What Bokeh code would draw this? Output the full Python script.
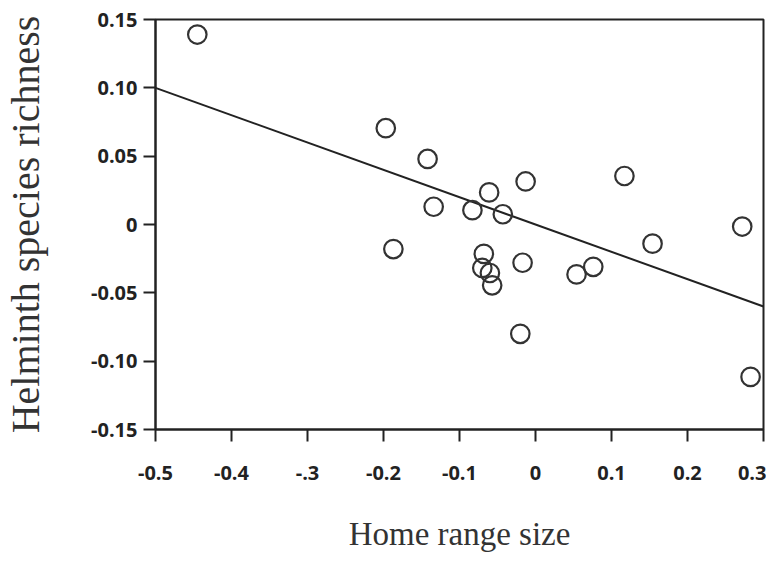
from bokeh.plotting import figure
from bokeh.models import Range1d, FixedTicker
from bokeh.embed import file_html
from bokeh.resources import INLINE

# data
home_range = [-0.445, -0.197, -0.142, -0.134, -0.187, -0.083, -0.061, -0.013, -0.043,
              -0.068, -0.070, -0.060, -0.057, -0.017, -0.020, 0.054, 0.076, 0.117,
              0.154, 0.272, 0.283]
richness = [0.139, 0.0705, 0.048, 0.013, -0.018, 0.0105, 0.0235, 0.0315, 0.0075,
            -0.0215, -0.0318, -0.0355, -0.0445, -0.0280, -0.0800, -0.0365, -0.0310, 0.0355,
            -0.0140, -0.0015, -0.1115]
fit_intercept = 0.0
fit_slope = -0.2

x_ticks = [-0.5, -0.4, -0.3, -0.2, -0.1, 0.0, 0.1, 0.2, 0.3]
x_tick_labels = ["-0.5", "-0.4", "-.3", "-0.2", "-0.1", "0", "0.1", "0.2", "0.3"]
y_ticks = [-0.15, -0.10, -0.05, 0.0, 0.05, 0.10, 0.15]
y_tick_labels = ["-0.15", "-0.10", "-0.05", "0", "0.05", "0.10", "0.15"]

W, H = 766, 556
p = figure(width=W, height=H, output_backend="svg", toolbar_location=None,
           x_range=Range1d(x_ticks[0], x_ticks[-1]),
           y_range=Range1d(y_ticks[0], y_ticks[-1]),
           min_border_left=154, min_border_right=3, min_border_top=19, min_border_bottom=127)
p.background_fill_color = "white"
p.border_fill_color = "white"
p.outline_line_color = "#222222"
p.outline_line_width = 2
p.xgrid.visible = False
p.ygrid.visible = False

for ax in (p.xaxis[0], p.yaxis[0]):
    ax.axis_line_color = "#222222"
    ax.axis_line_width = 2
    ax.major_tick_line_color = "#222222"
    ax.major_tick_line_width = 2
    ax.major_tick_out = 12
    ax.major_tick_in = 0
    ax.minor_tick_line_color = None
    ax.major_label_text_font = "Open Sans"
    ax.major_label_text_font_size = "20px"
    ax.major_label_text_font_style = "bold"
    ax.major_label_text_color = "#222222"
    ax.axis_label_text_font = "Liberation Serif"
    ax.axis_label_text_font_style = "normal"
    ax.axis_label_text_color = "#333333"

p.xaxis.axis_label_text_font_size = "33px"
p.yaxis.axis_label_text_font_size = "40px"
p.xaxis.ticker = FixedTicker(ticks=x_ticks)
p.xaxis.major_label_overrides = {t: l for t, l in zip(x_ticks, x_tick_labels)}
p.yaxis.ticker = FixedTicker(ticks=y_ticks)
p.yaxis.major_label_overrides = {t: l for t, l in zip(y_ticks, y_tick_labels)}
p.xaxis.major_label_standoff = 24
p.yaxis.major_label_standoff = 6
p.xaxis.axis_label = "Home range size"
p.yaxis.axis_label = "Helminth species richness"
p.xaxis.axis_label_standoff = 33
p.yaxis.axis_label_standoff = 40

line_x = [x_ticks[0], x_ticks[-1]]
line_y = [fit_intercept + fit_slope * v for v in line_x]
p.line(line_x, line_y, line_color="#222222", line_width=2)

p.scatter(home_range, richness, size=18.5, marker="circle", fill_color=None,
          line_color="#333333", line_width=2.2)

open("out.html", "w").write(file_html(p, INLINE))
